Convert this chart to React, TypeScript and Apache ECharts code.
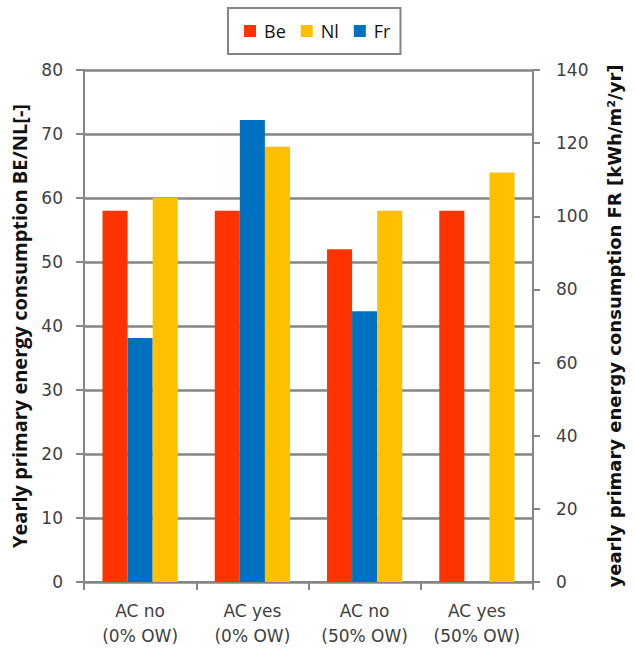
import React, { useEffect, useRef } from "react";
import * as echarts from "echarts";

const categories = ["AC no\n(0% OW)", "AC yes\n(0% OW)", "AC no\n(50% OW)", "AC yes\n(50% OW)"];
const beValues = [58, 58, 52, 58];
const nlValues = [60, 68, 58, 64];
// FR is plotted against the right-hand axis (kWh/m²/yr)
const frValues: (number | null)[] = [66.7, 126.3, 74, null];

const leftTicks = { min: 0, max: 80, interval: 10 };
const rightTicks = { min: 0, max: 140, interval: 20 };

const FONT = "'DejaVu Sans', 'Open Sans', sans-serif";
const AXIS_GRAY = "#858585";
const TEXT = "#404040";

export default function App() {
  const ref = useRef<HTMLDivElement>(null);

  useEffect(() => {
    document.body.style.margin = "0";
    if (!ref.current) return;
    const chart = echarts.init(ref.current, null, { renderer: "svg" });
    chart.setOption({
      animation: false,
      textStyle: { fontFamily: FONT },
      legend: {
        data: ["Be", "Nl", "Fr"],
        left: 228,
        top: 8,
        padding: [14, 10, 14, 16],
        itemWidth: 12,
        itemHeight: 12,
        itemGap: 15,
        borderColor: AXIS_GRAY,
        borderWidth: 2,
        icon: "rect",
        textStyle: {
          fontSize: 18,
          color: "#111",
          fontFamily: "'Open Sans', sans-serif",
          padding: [0, 0, 0, 3],
        },
      },
      grid: { left: 84, right: 102, top: 70, bottom: 74 },
      xAxis: {
        type: "category",
        data: categories,
        axisLine: { lineStyle: { color: AXIS_GRAY, width: 2 } },
        axisTick: { show: true, length: 8, lineStyle: { color: AXIS_GRAY, width: 2 } },
        axisLabel: {
          interval: 0,
          fontSize: 17,
          color: TEXT,
          lineHeight: 25,
          margin: 16,
          fontFamily: FONT,
        },
      },
      yAxis: [
        {
          type: "value",
          ...leftTicks,
          name: "Yearly primary energy consumption BE/NL[-]",
          nameLocation: "middle",
          nameGap: 55,
          nameTextStyle: {
            fontSize: 20,
            fontWeight: "bold",
            color: "#111",
            fontFamily: "'Open Sans', sans-serif",
          },
          axisLine: { show: true, lineStyle: { color: AXIS_GRAY, width: 2 } },
          axisTick: { show: true, length: 8, lineStyle: { color: AXIS_GRAY, width: 2 } },
          axisLabel: { fontSize: 17, color: TEXT, margin: 21, fontFamily: FONT },
          splitLine: { show: true, lineStyle: { color: AXIS_GRAY, width: 2.5 } },
        },
        {
          type: "value",
          ...rightTicks,
          position: "right",
          name: "yearly primary energy consumption FR [kWh/m²/yr]",
          nameLocation: "middle",
          nameGap: 72,
          nameTextStyle: {
            fontSize: 18,
            fontWeight: "bold",
            color: "#111",
            fontFamily: "'DejaVu Sans', sans-serif",
          },
          axisLine: { show: true, lineStyle: { color: AXIS_GRAY, width: 2 } },
          axisTick: { show: true, length: 7, lineStyle: { color: AXIS_GRAY, width: 2 } },
          axisLabel: { fontSize: 17, color: TEXT, margin: 23, fontFamily: FONT },
          splitLine: { show: false },
        },
      ],
      series: [
        {
          name: "Be",
          type: "bar",
          yAxisIndex: 0,
          data: beValues,
          barGap: "0%",
          barCategoryGap: "33%",
          itemStyle: { color: "#FF3300" },
        },
        {
          name: "Fr",
          type: "bar",
          yAxisIndex: 1,
          data: frValues,
          itemStyle: { color: "#0070C0" },
        },
        {
          name: "Nl",
          type: "bar",
          yAxisIndex: 0,
          data: nlValues,
          itemStyle: { color: "#FFC000" },
        },
      ],
    });
    return () => chart.dispose();
  }, []);

  return <div ref={ref} style={{ width: 635, height: 656 }} />;
}
